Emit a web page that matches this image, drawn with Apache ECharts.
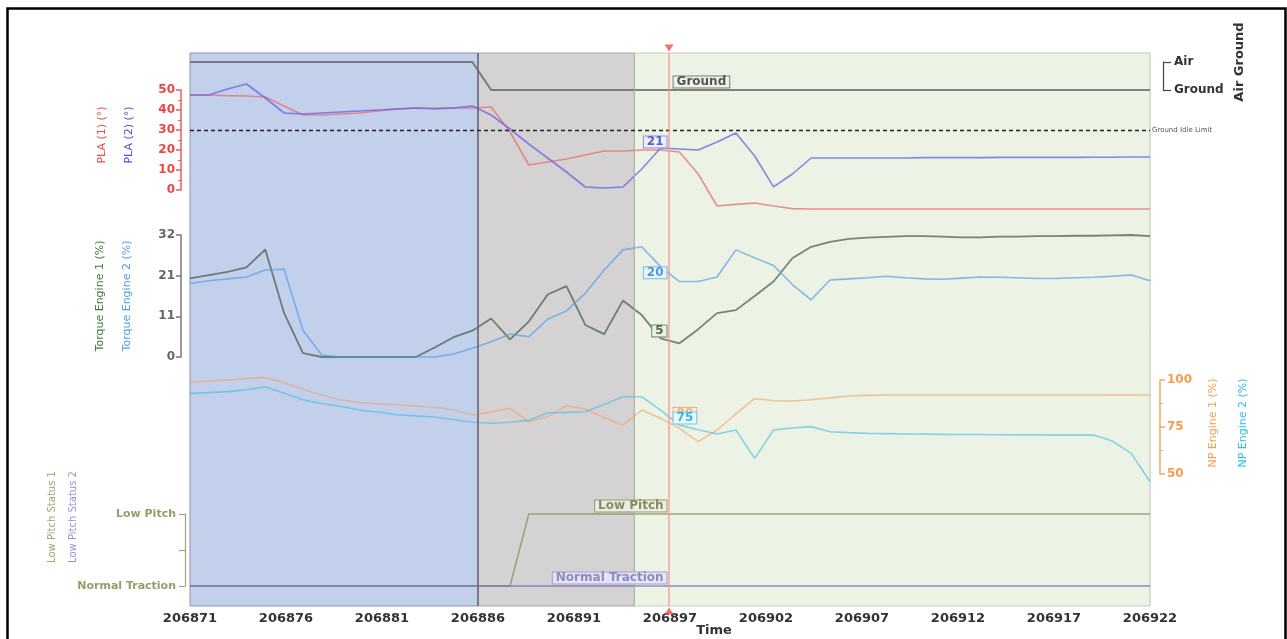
<!DOCTYPE html>
<html><head><meta charset="utf-8">
<script src="https://cdn.jsdelivr.net/npm/echarts@6/dist/echarts.min.js"></script>
<style>html,body{margin:0;padding:0;background:#fff;overflow:hidden}#c{width:1287px;height:639px}</style>
</head><body><div id="c"></div><script>
// ---------------- DATA ----------------
const times = [206871,206872,206873,206874,206875,206876,206877,206878,206879,206880,
  206881,206882,206883,206884,206885,206886,206887,206888,206889,206890,
  206891,206892,206893,206894,206895,206896,206897,206898,206899,206900,
  206901,206902,206903,206904,206905,206906,206907,206908,206909,206910,
  206911,206912,206913,206914,206915,206916,206917,206918,206919,206920,
  206921,206922];
const xTickLabels = ['206871','206876','206881','206886','206891','206897','206902','206907','206912','206917','206922'];
const xTickStep = 5.1;
const phaseTimes = [206871, 206886.3, 206894.6, 206922];
const cursorTime = 206896.45;
const groundIdleLimit = 30;

const pla1 = [47.5,47.5,47.2,47,46.5,42,37.5,37.5,38,38.5, 39.5,40.5,41,41,41,41,41.5,29,12.5,14,
  15.5,17.5,19.5,19.5,20,20,19,8,-8,-7.2, -6.5,-8,-9.3,-9.5,-9.5,-9.5,-9.5,-9.5,-9.5,-9.5,
  -9.5,-9.5,-9.5,-9.5,-9.5,-9.5,-9.5,-9.5,-9.5,-9.5, -9.5,-9.5];
const pla2 = [47.5,47.5,50.5,53,46,38.5,38,38.5,39,39.5, 40,40.5,41,40.5,41,42,37.5,30.5,23,16,
  9,1.5,1,1.5,10.5,21,20.5,20,24,28.5, 17,1.6,8,16,16,16,16,16,16,16.2,
  16.2,16.2,16.2,16.3,16.3,16.3,16.3,16.3,16.4,16.4, 16.5,16.5];
const airGroundStates = ['Ground','Air'];
const airGround = [1,1,1,1,1,1,1,1,1,1, 1,1,1,1,1,1,0,0,0,0,
  0,0,0,0,0,0,0,0,0,0, 0,0,0,0,0,0,0,0,0,0,
  0,0,0,0,0,0,0,0,0,0, 0,0];
const torque1 = [20.6,21.5,22.3,23.5,28.2,11.5,1,0,0,0, 0,0,0,2.5,5.2,6.9,10.1,4.6,9.3,16.4,
  18.6,8.4,6,14.8,11,4.9,3.6,7.3,11.5,12.3, 16,19.8,25.9,28.9,30.2,31,31.3,31.5,31.7,31.7,
  31.6,31.4,31.4,31.6,31.6,31.7,31.7,31.8,31.8,31.9, 32,31.7];
const torque2 = [19.3,20,20.5,21,22.8,23,7,0.5,0,0, 0,0,0,0,0.8,2.3,4,6,5.3,9.9,
  12.1,16.7,22.8,28.1,28.9,23.7,19.8,19.8,21,28.1, 26,24,19,15,20.2,20.5,20.8,21.2,20.8,20.5,
  20.4,20.7,21,20.9,20.8,20.6,20.6,20.8,20.9,21.2, 21.5,20];
const np1 = [98.8,99.5,100,100.8,101.4,98.5,95,92,89.5,88, 87.2,86.8,86.2,85.5,84,81.4,83,84.9,77.8,80.5,
  86.3,84.6,80,76,84,79.6,74.3,67.2,73.4,82, 90.2,89,88.8,89.5,90.5,91.5,91.8,92,92,92,
  92,92,92,92,92,92,92,92,92,92.1, 92.1,92];
const np2 = [92.9,93.3,93.8,94.8,96.4,93,89.5,87.5,86,84, 83,81.5,80.9,80.3,79,77.5,77,77.5,78.5,82.6,
  82.8,83.1,87,91.1,91.1,84,76,73.5,71.3,73.4, 58.3,73.4,74.5,75.2,72.5,72,71.6,71.5,71.3,71.2,
  71.1,71,71,70.9,70.8,70.8,70.7,70.7,70.7,67.5, 61,46];
const pitchStates = ['Normal Traction','Low Pitch'];
const lowPitch1 = [0,0,0,0,0,0,0,0,0,0, 0,0,0,0,0,0,0,0,1,1,
  1,1,1,1,1,1,1,1,1,1, 1,1,1,1,1,1,1,1,1,1,
  1,1,1,1,1,1,1,1,1,1, 1,1];
const lowPitch2 = [0,0,0,0,0,0,0,0,0,0, 0,0,0,0,0,0,0,0,0,0,
  0,0,0,0,0,0,0,0,0,0, 0,0,0,0,0,0,0,0,0,0,
  0,0,0,0,0,0,0,0,0,0, 0,0];
const plaTicks = [0, 50, 10];          // min, max, step
const torqueTickLabels = ['0','11','21','32'];
const torqueMax = 32;
const npTicks = [50, 100, 25];
// cursor readouts shown in boxes: pla2, torque2, torque1, np1, np2
const readPla2 = 21, readTq2 = 20, readTq1 = 5, readNp1 = 80, readNp2 = 75;

// ---------------- BUILD ----------------
const T0 = times[0];
const X = times.map(t => t - T0);
const pairs = vals => vals.map((v, i) => [X[i], v]);
const cx = cursorTime - T0;
const FONT = 'DejaVu Sans';

const gridTops = [[53,553],[90,100],[62,28],[235,122],[380,94],[514,72]];
const grid = gridTops.map(g => ({left:190, width:960, top:g[0], height:g[1], containLabel:false, outerBoundsMode:'none'}));

const xAxis = grid.map((g, i) => ({
  type:'value', gridIndex:i, min:0, max:X[X.length-1], interval:xTickStep,
  show: i === 0, nameMoveOverlap:false,
  axisLine:{show:false, onZero:false}, axisTick:{show:false},
  axisLabel:{show:i===0, margin:6, fontSize:13, fontWeight:'bold', color:'#333', fontFamily:FONT,
    formatter: v => xTickLabels[Math.round(v / xTickStep)] || ''},
  splitLine:{show:i===0, lineStyle:{color:'rgba(0,0,0,0.07)'}},
  name: i===0 ? 'Time' : '', nameLocation:'middle', nameGap:18,
  nameTextStyle:{fontSize:13, fontWeight:'bold', color:'#333', fontFamily:FONT, padding:[0,0,0,88]}
}));

const faint = {show:true, lineStyle:{color:'rgba(0,0,0,0.045)'}};
const yAxis = [
  {type:'value', gridIndex:0, min:0, max:1, show:false},
  {type:'value', gridIndex:1, position:'left', offset:9, min:plaTicks[0], max:plaTicks[1], interval:plaTicks[2],
    nameMoveOverlap:false,
    axisLine:{show:true, onZero:false, lineStyle:{color:'#ee5a5a', width:1.5}},
    axisTick:{show:true, length:5, lineStyle:{color:'#ee5a5a', width:1.5}},
    minorTick:{show:true, splitNumber:2, length:3, lineStyle:{color:'#ee5a5a'}},
    axisLabel:{color:'#ee4444', fontWeight:'bold', fontSize:12, margin:6, fontFamily:FONT},
    splitLine:faint,
    name:'{a|PLA (1) (°)}\n{b|PLA (2) (°)}', nameLocation:'middle', nameRotate:90, nameGap:38,
    nameTextStyle:{fontFamily:FONT, padding:[0,0,0,10], rich:{
      a:{color:'#f04a4a', fontSize:11, lineHeight:27, fontFamily:FONT},
      b:{color:'#5252e0', fontSize:11, lineHeight:27, fontFamily:FONT}}}},
  {type:'value', gridIndex:2, position:'right', offset:13, min:0, max:1, interval:1,
    nameMoveOverlap:false,
    axisLine:{show:true, onZero:false, lineStyle:{color:'#444', width:1.2}},
    axisTick:{show:true, length:8, lineStyle:{color:'#444', width:1.2}},
    axisLabel:{color:'#333', fontWeight:'bold', fontSize:12, margin:11, fontFamily:FONT,
      formatter: v => airGroundStates[v] || ''},
    splitLine:{show:false},
    name:'Air Ground', nameLocation:'middle', nameRotate:90, nameGap:70,
    nameTextStyle:{color:'#333', fontSize:13, fontWeight:'bold', fontFamily:FONT, padding:[0,0,0,28]}},
  {type:'value', gridIndex:3, position:'left', offset:9, min:0, max:torqueMax, interval:torqueMax/3,
    nameMoveOverlap:false,
    axisLine:{show:true, onZero:false, lineStyle:{color:'#777', width:1.5}},
    axisTick:{show:true, length:5, lineStyle:{color:'#777', width:1.5}},
    axisLabel:{color:'#666', fontWeight:'bold', fontSize:12, margin:6, fontFamily:FONT,
      formatter: v => torqueTickLabels[Math.round(v / (torqueMax/3))] || ''},
    splitLine:faint,
    name:'{a|Torque Engine 1 (%)}\n{b|Torque Engine 2 (%)}', nameLocation:'middle', nameRotate:90, nameGap:40,
    nameTextStyle:{fontFamily:FONT, rich:{
      a:{color:'#3f7a3f', fontSize:11, lineHeight:27, fontFamily:FONT},
      b:{color:'#4f9fec', fontSize:11, lineHeight:27, fontFamily:FONT}}}},
  {type:'value', gridIndex:4, position:'right', offset:10, min:npTicks[0], max:npTicks[1], interval:npTicks[2],
    nameMoveOverlap:false,
    axisLine:{show:true, onZero:false, lineStyle:{color:'#f5a660', width:1.5}},
    axisTick:{show:true, length:5, lineStyle:{color:'#f5a660', width:1.5}},
    minorTick:{show:true, splitNumber:2, length:3, lineStyle:{color:'#f5a660'}},
    axisLabel:{color:'#f59a50', fontWeight:'bold', fontSize:12, margin:7, fontFamily:FONT},
    splitLine:faint,
    name:'{a|NP Engine 1 (%)}\n{b|NP Engine 2 (%)}', nameLocation:'middle', nameRotate:90, nameGap:38,
    nameTextStyle:{fontFamily:FONT, padding:[0,0,0,8], rich:{
      a:{color:'#f5a050', fontSize:11, lineHeight:30, fontFamily:FONT},
      b:{color:'#2ebff0', fontSize:11, lineHeight:30, fontFamily:FONT}}}},
  {type:'value', gridIndex:5, position:'left', offset:5, min:0, max:1, interval:0.5,
    nameMoveOverlap:false,
    axisLine:{show:true, onZero:false, lineStyle:{color:'#a4a478', width:1.2}},
    axisTick:{show:true, length:6, lineStyle:{color:'#a4a478', width:1.2}},
    axisLabel:{color:'#9a9a6a', fontWeight:'bold', fontSize:11, margin:9, fontFamily:FONT,
      formatter: v => (v === 0 || v === 1) ? pitchStates[v] : ''},
    splitLine:faint,
    name:'{a|Low Pitch Status 1}\n{b|Low Pitch Status 2}', nameLocation:'middle', nameRotate:90, nameGap:101,
    nameTextStyle:{fontFamily:FONT, padding:[0,0,0,66], rich:{
      a:{color:'#a3a372', fontSize:10, lineHeight:21, fontFamily:FONT},
      b:{color:'#9d8fdc', fontSize:10, lineHeight:21, fontFamily:FONT}}}}
];

function readout(text, yv, side, color, border, bg, dy) {
  return {
    symbol:'rect', symbolSize:1, itemStyle:{color:'rgba(0,0,0,0)'}, silent:true,
    data:[{coord:[cx, yv]}],
    label:{show:true, formatter:text, position:side, distance:side==='left'?2:4, offset:[0, dy],
      color:color, fontSize:12, fontWeight:'bold', fontFamily:FONT, lineHeight:11,
      borderColor:border, borderWidth:1, backgroundColor:bg, padding:[0,3]}
  };
}

const lineS = (name, xi, data, color, width, z, extra) => Object.assign({
  name, type:'line', xAxisIndex:xi, yAxisIndex:xi, data:pairs(data), symbol:'none',
  clip:false, z:z||3, silent:true, lineStyle:{color, width:width||1.6}, itemStyle:{color}
}, extra||{});

const series = [
  {type:'line', xAxisIndex:0, yAxisIndex:0, data:[[0,0]], symbol:'none', z:0, silent:true,
    lineStyle:{opacity:0},
    markArea:{silent:true, data:[
      [{xAxis:phaseTimes[0]-T0, itemStyle:{color:'#c3d0eb', borderColor:'#8c94a8', borderWidth:1}}, {xAxis:phaseTimes[1]-T0}],
      [{xAxis:phaseTimes[1]-T0, itemStyle:{color:'#d5d2d3', borderColor:'#a8a6a8', borderWidth:1}}, {xAxis:phaseTimes[2]-T0}],
      [{xAxis:phaseTimes[2]-T0, itemStyle:{color:'#ecf3e4', borderColor:'#c4ccba', borderWidth:1}}, {xAxis:phaseTimes[3]-T0}]
    ]},
    markLine:{silent:true, symbol:'none', label:{show:false},
      data:[{xAxis:phaseTimes[1]-T0, lineStyle:{color:'#66707e', width:1.6, type:'solid'}},
            {xAxis:phaseTimes[2]-T0, lineStyle:{color:'#b0b8a4', width:1, type:'solid'}}]}},
  lineS('PLA (1)', 1, pla1, 'rgba(232,110,110,0.75)', 1.6, 3, {
    markLine:{silent:true, symbol:'none', data:[{yAxis:groundIdleLimit}],
      lineStyle:{color:'#222', type:[4,3], width:1.4},
      label:{show:true, position:'end', formatter:'Ground Idle Limit', fontSize:7, color:'#555', distance:2, fontFamily:FONT}}}),
  lineS('PLA (2)', 1, pla2, 'rgba(98,98,228,0.75)', 1.6, 3, {
    markPoint:readout(String(readPla2), readPla2, 'left', '#5a5ad8', '#8e8ee4', 'rgba(236,240,252,0.95)', -6)}),
  lineS('Air Ground', 2, airGround, 'rgba(100,100,100,0.8)', 2, 3, {
    markPoint:readout(airGroundStates[0], 0, 'right', '#555', '#7c7c7c', 'rgba(240,244,234,0.95)', -8)}),
  lineS('Torque Engine 1', 3, torque1, 'rgba(70,92,70,0.72)', 1.8, 3, {
    markPoint:readout(String(readTq1), readTq1, 'left', '#4e6e4e', '#6d8d6d', 'rgba(236,242,230,0.95)', -7)}),
  lineS('Torque Engine 2', 3, torque2, 'rgba(84,158,232,0.7)', 1.6, 3, {
    markPoint:readout(String(readTq2), readTq2, 'left', '#4a9ae2', '#7cb9ec', 'rgba(236,244,250,0.95)', -8)}),
  lineS('NP Engine 1', 4, np1, 'rgba(245,160,100,0.6)', 1.6, 3, {
    markPoint:readout(String(readNp1), readNp1, 'right', '#f3b07c', '#f5b07a', 'rgba(252,240,226,1)', -4)}),
  lineS('NP Engine 2', 4, np2, 'rgba(70,185,230,0.6)', 1.6, 4, {
    markPoint:readout(String(readNp2), readNp2, 'right', '#3cb6e0', '#74c8ea', 'rgba(234,246,250,1)', -9)}),
  lineS('Low Pitch Status 1', 5, lowPitch1, 'rgba(145,145,95,0.8)', 1.5, 3, {
    markPoint:readout(pitchStates[1], 1, 'left', '#8a8a5e', '#9c9c78', 'rgba(236,240,228,0.9)', -8)}),
  lineS('Low Pitch Status 2', 5, lowPitch2, 'rgba(105,105,175,0.75)', 1.5, 3, {
    markPoint:readout(pitchStates[0], 0, 'left', '#8a8ac8', '#a0a0d2', 'rgba(232,232,244,0.9)', -8)}),
  // cursor
  {type:'scatter', xAxisIndex:0, yAxisIndex:0, z:6, silent:true, clip:false,
    data:[{value:[cx,1], symbolRotate:180, symbolOffset:[0,-5]}, {value:[cx,0], symbolOffset:[0,5]}],
    symbol:'triangle', symbolSize:[9,7], itemStyle:{color:'#ee4d4d'},
    markLine:{silent:true, symbol:'none', label:{show:false},
      data:[{xAxis:cx}], lineStyle:{color:'rgba(240,150,150,0.85)', width:1.5, type:'solid'}}}
];

const chart = echarts.init(document.getElementById('c'), null, {renderer:'canvas'});
chart.setOption({
  animation:false,
  backgroundColor:'#fff',
  textStyle:{fontFamily:FONT},
  grid, xAxis, yAxis, series,
  graphic:[{type:'rect', left:5, top:6, z:100, silent:true,
    shape:{width:1278, height:640}, style:{fill:'none', stroke:'#000', lineWidth:2.5}}]
});
</script></body></html>
